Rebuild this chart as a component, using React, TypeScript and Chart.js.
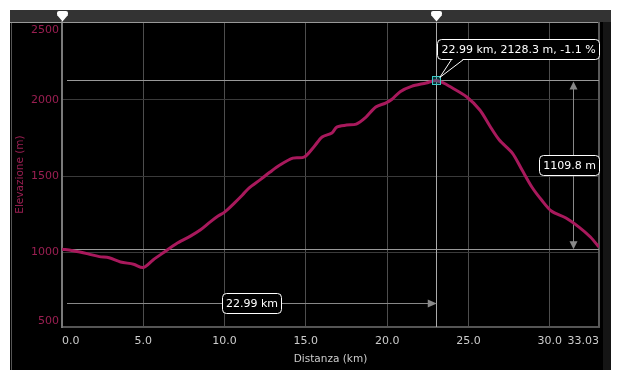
import React, { useEffect, useRef } from 'react';
import { Chart, registerables } from 'chart.js';

Chart.register(...registerables);

// ---- data ----
const distancesKm = [
  0, 0.6, 1.1, 1.6, 2.3, 2.9, 3.6, 4.4, 5.0, 5.6, 6.2, 7.1, 7.9, 8.5, 9.1, 9.6, 10.0, 10.6, 11.1, 11.5,
  12.2, 12.8, 13.4, 14.2, 14.9, 15.5, 16.0, 16.6, 16.9, 17.5, 18.1, 18.7, 19.3, 19.9, 20.3, 20.8, 21.5,
  22.4, 22.99, 23.45, 23.8, 24.9, 25.7, 26.3, 26.9, 27.7, 28.3, 28.9, 29.5, 30.1, 31.0, 31.8, 32.5, 33.03,
];
const elevationsM = [
  1019, 1010, 1000, 988, 970, 962, 935, 920, 898, 948, 993, 1059, 1105, 1145, 1197, 1237, 1263, 1322, 1375, 1421,
  1476, 1526, 1572, 1618, 1625, 1693, 1757, 1783, 1822, 1835, 1842, 1888, 1954, 1980, 2005, 2055, 2090,
  2112, 2128.3, 2112, 2092, 2020, 1934, 1832, 1737, 1651, 1539, 1428, 1342, 1270, 1224, 1164, 1099, 1033,
];
const xTickValues = [0, 5, 10, 15, 20, 25, 30, 33.03];
const xTickLabels = ['0.0', '5.0', '10.0', '15.0', '20.0', '25.0', '30.0', '33.03'];
const yTickValues = [500, 1000, 1500, 2000, 2500];
const yTickLabels = ['500', '1000', '1500', '2000', '2500'];
const markerKm = 22.99;
const markerElev = 2128.3;
const markerSlope = -1.1;
const rangeLowElev = 1018.5;

const xTitle = 'Distanza (km)';
const yTitle = 'Elevazione (m)';
const tooltipText = `${markerKm.toFixed(2)} km, ${markerElev.toFixed(1)} m, ${markerSlope.toFixed(1)} %`;
const rangeText = `${(markerElev - rangeLowElev).toFixed(1)} m`;
const distText = `${markerKm.toFixed(2)} km`;

const FONT = '"DejaVu Sans", sans-serif';
const LINE_COLOR = '#a8195c';
const Y_COLOR = '#9b1f52';

function labelBox(ctx: CanvasRenderingContext2D, text: string, cx: number, cy: number, maxRight?: number) {
  ctx.font = `11px ${FONT}`;
  const w = Math.round(ctx.measureText(text).width + 7);
  const h = 20;
  let left = cx - w / 2;
  if (maxRight !== undefined && left + w > maxRight) left = maxRight - w;
  const x = Math.round(left) + 0.5;
  const y = Math.round(cy - h / 2) + 0.5;
  ctx.beginPath();
  (ctx as any).roundRect(x, y, w, h, 4);
  ctx.fillStyle = '#000';
  ctx.fill();
  ctx.strokeStyle = '#fff';
  ctx.lineWidth = 1;
  ctx.stroke();
  ctx.fillStyle = '#fff';
  ctx.textAlign = 'center';
  ctx.textBaseline = 'middle';
  ctx.fillText(text, x + w / 2, y + h / 2 + 0.5);
}

function hLine(ctx: CanvasRenderingContext2D, x1: number, x2: number, y: number, color: string) {
  ctx.beginPath();
  ctx.strokeStyle = color;
  ctx.lineWidth = 1;
  const yy = Math.round(y) + 0.5;
  ctx.moveTo(x1, yy);
  ctx.lineTo(x2, yy);
  ctx.stroke();
}
function vLine(ctx: CanvasRenderingContext2D, x: number, y1: number, y2: number, color: string) {
  ctx.beginPath();
  ctx.strokeStyle = color;
  ctx.lineWidth = 1;
  const xx = Math.round(x) + 0.5;
  ctx.moveTo(xx, y1);
  ctx.lineTo(xx, y2);
  ctx.stroke();
}

const overlayPlugin = {
  id: 'overlay',
  beforeDraw(chart: any) {
    const { ctx, width, height, chartArea: a } = chart;
    ctx.save();
    ctx.fillStyle = '#000';
    ctx.fillRect(0, 0, width, height);
    ctx.fillStyle = '#151515';
    ctx.fillRect(width - 8, a.top, 8, height - a.top);
    ctx.fillStyle = '#333';
    ctx.fillRect(0, 0, width, a.top);
    ctx.fillStyle = '#555';
    ctx.fillRect(1, a.top, 1, height - a.top);
    ctx.restore();
  },
  beforeDatasetsDraw(chart: any) {
    const { ctx, chartArea: a, scales } = chart;
    const xs = scales.x, ys = scales.y;
    const mx = xs.getPixelForValue(markerKm);
    const my = ys.getPixelForValue(markerElev);
    const ly = ys.getPixelForValue(rangeLowElev);
    ctx.save();
    // top line & right border
    hLine(ctx, 0, a.right + 1, a.top - 0.5, '#999');
    ctx.fillStyle = '#5a5a5a';
    ctx.fillRect(Math.round(a.right) - 1, a.top, 2, a.bottom - a.top);
    // range lines
    hLine(ctx, a.left + 5, a.right, my, '#999');
    hLine(ctx, a.left + 5, a.right, ly, '#999');
    // marker vertical
    vLine(ctx, mx, a.top, a.bottom, '#aaa');
    // vertical arrow
    const ax = a.right - 26;
    vLine(ctx, ax, my + 6, ly - 6, '#888');
    ctx.fillStyle = '#888';
    const axx = Math.round(ax) + 0.5;
    ctx.beginPath();
    ctx.moveTo(axx, my + 1);
    ctx.lineTo(axx - 4, my + 9);
    ctx.lineTo(axx + 4, my + 9);
    ctx.closePath();
    ctx.fill();
    ctx.beginPath();
    ctx.moveTo(axx, ly);
    ctx.lineTo(axx - 4, ly - 8);
    ctx.lineTo(axx + 4, ly - 8);
    ctx.closePath();
    ctx.fill();
    // horizontal arrow
    const hy = a.bottom - 24;
    hLine(ctx, a.left + 5, mx - 6, hy, '#888');
    const hyy = Math.round(hy) + 0.5;
    ctx.beginPath();
    ctx.moveTo(mx + 1, hyy);
    ctx.lineTo(mx - 8, hyy - 4);
    ctx.lineTo(mx - 8, hyy + 4);
    ctx.closePath();
    ctx.fill();
    ctx.restore();
  },
  afterDatasetsDraw(chart: any) {
    const { ctx, chartArea: a, scales } = chart;
    const xs = scales.x, ys = scales.y;
    const mx = xs.getPixelForValue(markerKm);
    const my = ys.getPixelForValue(markerElev);
    const ly = ys.getPixelForValue(rangeLowElev);
    ctx.save();
    // labels
    labelBox(ctx, distText, (a.left + 5 + mx) / 2, a.bottom - 24);
    labelBox(ctx, rangeText, a.right - 26, (my + ly) / 2, a.right);
    // marker square
    const sx = Math.round(mx) - 3.5, sy = Math.round(my) - 3.5;
    ctx.fillStyle = 'rgba(0,150,150,0.35)';
    ctx.fillRect(sx, sy, 8, 8);
    ctx.strokeStyle = '#3cc8c8';
    ctx.lineWidth = 1;
    ctx.strokeRect(sx, sy, 8, 8);
    // tooltip
    ctx.font = `11px ${FONT}`;
    const tw = Math.round(ctx.measureText(tooltipText).width + 8);
    const bx = Math.round(mx) + 1.5, by = Math.round(my) - 40.5, bh = 20;
    ctx.beginPath();
    (ctx as any).roundRect(bx, by, tw, bh, 4);
    ctx.fillStyle = '#000';
    ctx.fill();
    ctx.strokeStyle = '#fff';
    ctx.stroke();
    const b1 = bx + 14, b2 = bx + 26, tipX = mx + 4, tipY = my - 3;
    ctx.beginPath();
    ctx.moveTo(b1 + 1, by + bh - 0.5);
    ctx.lineTo(b2 - 1, by + bh - 0.5);
    ctx.lineTo(b2 - 1, by + bh + 1);
    ctx.lineTo(b1 + 1, by + bh + 1);
    ctx.closePath();
    ctx.fillStyle = '#000';
    ctx.fill();
    ctx.beginPath();
    ctx.moveTo(b1, by + bh);
    ctx.lineTo(tipX, tipY);
    ctx.lineTo(b2, by + bh);
    ctx.strokeStyle = '#fff';
    ctx.stroke();
    ctx.fillStyle = '#fff';
    ctx.textAlign = 'center';
    ctx.textBaseline = 'middle';
    ctx.fillText(tooltipText, bx + tw / 2, by + bh / 2 + 0.5);
    // handles in top bar
    const handles = [xs.getPixelForValue(0), mx];
    ctx.fillStyle = '#fff';
    for (const hx of handles) {
      const cx = Math.round(hx) + 0.5;
      ctx.beginPath();
      (ctx as any).roundRect(cx - 5.5, 1, 11, 5, 2);
      ctx.fill();
      ctx.beginPath();
      ctx.moveTo(cx - 5.5, 5);
      ctx.lineTo(cx + 5.5, 5);
      ctx.lineTo(cx, 11.5);
      ctx.closePath();
      ctx.fill();
    }
    ctx.restore();
  },
};

export default function App() {
  const ref = useRef<HTMLCanvasElement | null>(null);
  useEffect(() => {
    if (!ref.current) return;
    Chart.defaults.font.family = FONT;
    const chart = new Chart(ref.current, {
      type: 'line',
      data: {
        datasets: [
          {
            data: distancesKm.map((d, i) => ({ x: d, y: elevationsM[i] })),
            borderColor: LINE_COLOR,
            borderWidth: 3,
            pointRadius: 0,
            tension: 0.3,
            fill: false,
          },
        ],
      },
      options: {
        animation: false,
        responsive: false,
        devicePixelRatio: 1,
        events: [],
        layout: { padding: { top: 12, right: 12, left: 0, bottom: 0 } },
        plugins: { legend: { display: false }, tooltip: { enabled: false } },
        scales: {
          x: {
            type: 'linear',
            min: 0,
            max: 33.03,
            afterBuildTicks: (s: any) => {
              s.ticks = xTickValues.map((v) => ({ value: v }));
            },
            afterFit: (s: any) => {
              s.height = 43;
              s.paddingLeft = 0;
              s.paddingRight = 0;
            },
            ticks: {
              align: 'inner',
              color: '#cccccc',
              font: { size: 11 },
              padding: 8,
              maxRotation: 0,
              autoSkip: false,
              callback: (v: any) => {
                const i = xTickValues.indexOf(Number(v));
                return i >= 0 ? xTickLabels[i] : '';
              },
            },
            grid: {
              drawTicks: false,
              lineWidth: 1,
              color: (c: any) => (c.tick && (c.tick.value === 0 || c.tick.value === 33.03) ? 'rgba(0,0,0,0)' : '#4d4d4d'),
            },
            border: { color: '#555', width: 2 },
            title: { display: true, text: xTitle, color: '#cccccc', font: { size: 10.5 }, padding: { top: 0, bottom: 4 } },
          },
          y: {
            type: 'linear',
            min: 507,
            max: 2513,
            afterBuildTicks: (s: any) => {
              s.ticks = yTickValues.map((v) => ({ value: v }));
            },
            afterFit: (s: any) => {
              s.width = 52;
              s.paddingTop = 0;
              s.paddingBottom = 0;
            },
            ticks: {
              color: Y_COLOR,
              font: { size: 11 },
              padding: 3,
              callback: (v: any) => {
                const i = yTickValues.indexOf(Number(v));
                if (i < 0) return '';
                if (i === 0) return [yTickLabels[i], ''];
                if (i === yTickValues.length - 1) return ['', yTickLabels[i]];
                return yTickLabels[i];
              },
            },
            grid: {
              drawTicks: false,
              lineWidth: 1,
              color: (c: any) => (c.tick && (c.tick.value === 500 || c.tick.value === 2500) ? 'rgba(0,0,0,0)' : '#3a3a3a'),
            },
            border: { color: '#7a7a7a', width: 2 },
            title: { display: true, text: yTitle, color: Y_COLOR, font: { size: 10.5 }, padding: { top: 4, bottom: 4 } },
          },
        },
      } as any,
      plugins: [overlayPlugin as any],
    });
    return () => chart.destroy();
  }, []);
  return (
    <div style={{ position: 'absolute', left: 0, top: 0, width: 621, height: 380, background: '#fff' }}>
      <canvas ref={ref} width={601} height={360} style={{ position: 'absolute', left: 10, top: 10 }} />
    </div>
  );
}
